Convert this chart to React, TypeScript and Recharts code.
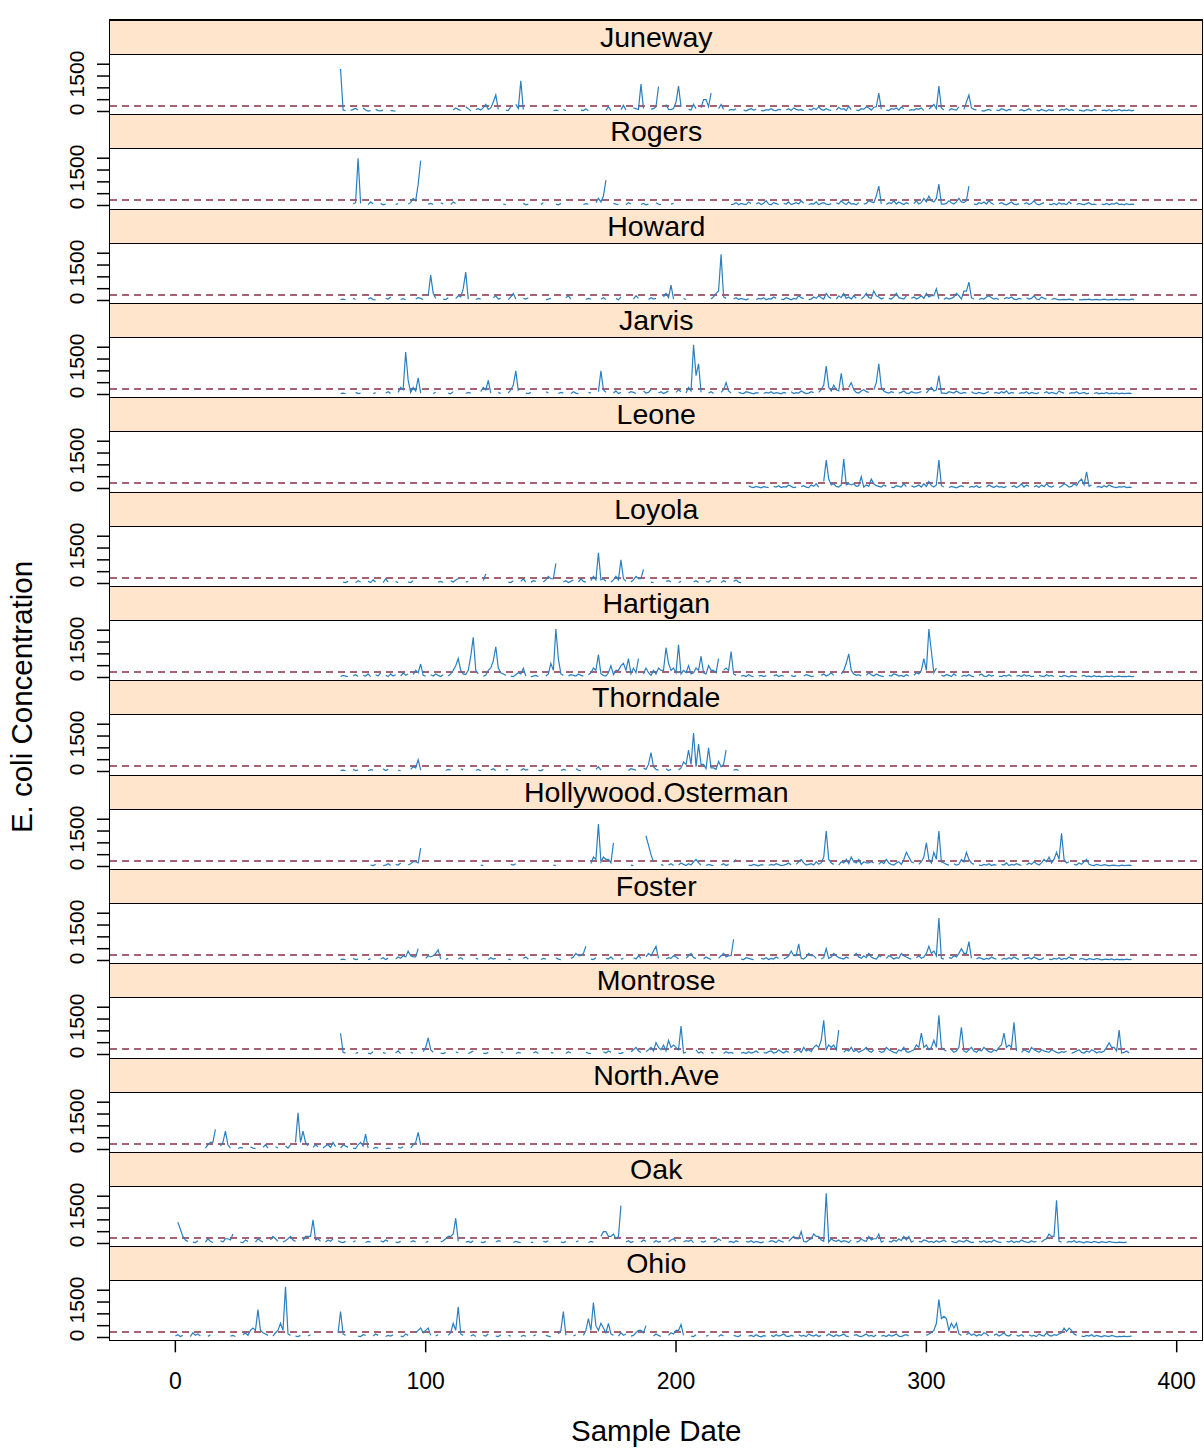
import React from "react";
import { LineChart, Line, XAxis, YAxis, ReferenceLine } from "recharts";

type Run = [number, number[]];
type Peak = [number, number];

// tick labels
const xTicks = [0, 100, 200, 300, 400];
const yTicks = [0, 500, 1000, 1500, 2000];
const yLabelled = [0, 1500];
const threshold = 235;

// baseline runs: [first sample date, values...]; peaks: [sample date, value]
const junewayRuns: Run[] = [[66,[110,60,40]],[70,[40,90,130,60]],[75,[150,60,20,40]],[80,[90,40,30,60]],[86,[50,30,20]],[111,[60,150,90,40]],[116,[200,120,30]],[120,[90,120,60,160,300,90,150,200,150,90]],[132,[60,40,200]],[136,[300,120,250,80]],[151,[30,60,40]],[155,[90,30]],[162,[60,40,120,30]],[172,[50,200,40]],[178,[80,260,60]],[183,[150,120,90,60,120]],[190,[100,120,200,70]],[196,[300,90,80,120,400,150,200]],[205,[90,60,300,120]],[210,[150,500,120,200,60]],[217,[120,300,90]],[221,[40,90,60,120]],[227,[60,30,80,120,60,90]],[234,[40,30,80,60,120,50,40,90,70]],[244,[60,120,40,150,90,60,80,30]],[253,[100,60,140,80,200,90,50,120,70,40]],[264,[60,180,90,120,40,220,80]],[272,[60,40,120,90,200,150,60,180,200,200,90]],[284,[60,40,120,90,150,60,200,110]],[293,[40,80,60,120,90,150,40]],[301,[90,200,300,120,400,150,60]],[309,[40,120,80,60,200]],[315,[90,400,120,150,90,60]],[322,[40,20,60,90,30]],[328,[60,40,120,80,30,90,60]],[337,[40,80,30,60,120,40]],[344,[60,30,90,50,20,80,40,60]],[353,[30,90,60,120,40,80,30]],[361,[60,40,20,80,60,30,90,50]],[370,[40,60,30,80,20,60,40,90,30,60,40,70,30,60]]];
const junewayPeaks: Peak[] = [[66,1800],[127,400],[128,700],[138,1300],[186,1160],[193,1050],[201,1075],[212,500],[214,780],[281,780],[305,1075],[317,700]];

const rogersRuns: Run[] = [[71,[60,120,90,90]],[77,[40,150,60]],[82,[90,30,60]],[88,[40,80]],[93,[60,120,300,200,90,200]],[101,[60,90,40]],[106,[120,60]],[110,[40,150,80]],[131,[60,40]],[139,[90,30,60]],[146,[40,120]],[152,[60,30,90]],[163,[40,80,60]],[168,[120,300,150,400,150]],[175,[90,60,40]],[180,[30,120,60]],[186,[40,90,30,60]],[192,[120,60,40]],[198,[60,90]],[222,[40,60,120,30,90,60,40,150,80]],[232,[60,120,40,90,200,60,30,120,80,40]],[243,[90,60,150,40,80,120,60,200,90]],[253,[40,80,60,150,30,90,120,60,40,80]],[264,[120,60,200,90,40,150,60,80,30,120]],[275,[60,90,200,150,120,150,90,60]],[284,[40,120,80,200,60,150,90,40,120,60]],[295,[80,200,60,120,300,150,400,200,150,300,120,60]],[307,[60,90,200,120,60,150,300,150,120,200,90]],[319,[60,40,120,80,150,60,200,90,40]],[329,[80,120,60,30,90,150,60,40,80]],[339,[60,120,40,90,200,60,30,80,120]],[349,[60,40,90,30,120,60,80,40,150,60]],[360,[40,90,60,30,80,120,40,60,30]],[370,[60,40,90,30,80,60,120,40,60,30,80,40,60,50]]];
const rogersPeaks: Peak[] = [[73,2000],[97,900],[98,1900],[171,400],[172,1075],[280,400],[281,820],[305,900],[317,820]];

const howardRuns: Run[] = [[66,[40,60,30]],[71,[90,40]],[77,[60,120,40,30]],[84,[90,60,150]],[90,[40,80,30]],[96,[60,120,90,40]],[101,[200,150,300,90]],[107,[60,40,120]],[112,[80,200,150,120,150,60]],[120,[40,90,60]],[127,[120,200,60,90]],[133,[40,150,300,60]],[139,[90,60,120]],[148,[40,60,90]],[156,[120,200,60]],[164,[40,90,60]],[170,[60,120,40]],[176,[90,30,150]],[183,[60,200,90]],[189,[40,120,60,90]],[195,[150,300,120,200,60]],[203,[90,40]],[214,[60,150,300,120,400,150,90]],[223,[60,120,40,90,60,30,80]],[232,[40,90,60,120,30,80,60,150,90]],[242,[60,40,120,80,30,90,60,200,120,80]],[253,[40,60,150,90,200,120,60,300,150,90]],[264,[60,200,120,300,90,150,60,200,90]],[274,[60,150,300,120,90,400,200,150,60,120]],[285,[90,60,150,300,120,90,60,200]],[294,[90,150,60,120,200,90,300,150,200,200,90,60]],[307,[40,120,60,90,150,300,200,60,400,200,300,120,60]],[321,[40,90,60,150,200,120,60,90,40]],[331,[60,120,90,150,60,40,90,60]],[340,[120,60,90,200,60,40,150,90,60]],[350,[40,90,60,30,40,50,40,60,40,30]],[361,[40,30,50,40,60,30,40,50,30,40,60,40,30,50,40,60,30,40,50,40,30,60,40]]];
const howardPeaks: Peak[] = [[102,1075],[115,500],[116,1200],[198,650],[217,400],[218,1950],[279,400],[304,490],[316,400],[317,780]];

const jarvisRuns: Run[] = [[66,[40,60,30]],[72,[90,40,60]],[79,[30,80]],[84,[60,120,40]],[89,[90,300,200,600,200,90,300,150,150,60]],[103,[40,90]],[109,[60,30,120]],[116,[40,90,60]],[122,[120,300,200,150,60]],[129,[90,40]],[133,[60,200,400,150,150]],[140,[60,40,90]],[148,[120,60]],[153,[40,90,60]],[158,[30,120,60,40]],[165,[90,60]],[169,[120,150,200,90]],[175,[60,150,40,90]],[181,[60,120,90,40]],[187,[150,60,90,200]],[193,[60,120,40,90,150]],[200,[90,200,120]],[204,[60,300,150,800,150,300,90]],[213,[60,120,40]],[218,[90,200,150,150,60]],[225,[90,60,40,120,90,60,30,80,60]],[235,[40,90,60,120,40,80,60,30,90,60]],[246,[120,40,80,60,150,90,40,60,120,80]],[257,[90,200,400,150,300,150,400,200,150,300,150]],[269,[300,150,200,90,60,150,200,120,90]],[279,[200,500,150,300,150,90,60,120,80]],[289,[60,90,150,60,40,120,80,60,90,120]],[300,[60,200,300,150,200,90,60]],[307,[60,40,120,90,60,150,80,40,90,60]],[318,[120,60,40,90,60,30,80,120]],[327,[60,90,40,120,60,150,30,90,60]],[337,[40,80,60,120,30,90,60,40,80]],[347,[60,120,40,90,60,30,150,90,60]],[357,[40,80,60,120,40,60,90,30,60]],[367,[40,80,30,60,40,90,30,60,40,70,30,60,40,50,60,40]]];
const jarvisPeaks: Peak[] = [[92,1800],[93,600],[97,700],[125,600],[136,1000],[170,1000],[207,2100],[208,800],[209,1300],[220,500],[260,1200],[266,900],[270,500],[281,1300],[305,800]];

const leoneRuns: Run[] = [[229,[120,60,40,90,60,30,80,60,40]],[239,[90,60,120,40,80,60,150,90,40,60]],[250,[80,120,60,40,150,90,200,60]],[259,[300,150,400,150,200,90,60,150,300,150,200,150,200,90,120,90]],[275,[60,150,90,150,200,120,90,60,150,90]],[286,[60,40,120,90,60,200,80]],[294,[120,60,90,150,60,200,90,300,120,60,150,300,120,60]],[309,[40,90,60,30,80,120,60]],[317,[40,90,60,120,40,80]],[324,[60,150,90,40,120,60,80,40,90]],[334,[60,120,40,90,200,60,150,90]],[343,[60,120,40,150,80,200,90,60,120]],[353,[40,90,200,150,60,90,200,120,300,400,150,200,90,150]],[368,[60,90,40,120,60,150,90,60,40,80,60,90,40,60,50]]];
const leonePeaks: Peak[] = [[260,1200],[267,1250],[274,500],[278,400],[305,1200],[364,700]];

const loyolaRuns: Run[] = [[67,[60,40,90]],[72,[30,120,60]],[77,[90,40,150,60]],[83,[40,200,60]],[88,[90,30]],[93,[60,40,120]],[105,[60,90,40]],[110,[120,60,150,200]],[116,[60,90]],[123,[120,250]],[133,[60,40,120]],[138,[90,200,60]],[142,[40,120,90]],[147,[60,150,300,200,200,90]],[155,[60,120,40,90,150]],[161,[60,200,90,60]],[166,[120,300,150,400,150,200,90]],[174,[60,150,300,150,400,200,90]],[182,[60,150,300,200,200,90]],[190,[60,40]],[196,[90,120,60]],[201,[40,90]],[207,[60,120,40]],[212,[90,60,150]],[218,[40,120,60]],[223,[90,150,60,40]]];
const loyolaPeaks: Peak[] = [[124,400],[152,850],[169,1300],[178,1000],[187,600]];

const hartiganRuns: Run[] = [[66,[40,90,60,30]],[71,[60,120,40]],[75,[90,60,150,40]],[80,[120,60,200]],[84,[90,40,150,60,120]],[90,[60,200,90,150]],[95,[120,300,200,200,90,60]],[102,[120,60,150,90,40,120]],[109,[60,150,300,500,300,300,150,120,300,400,600,300,150]],[123,[60,90,300,400,300,800,400,200,150,90]],[134,[60,40,120,200,150,150,60]],[142,[40,60,90,30]],[148,[60,150,600,300,800,400,150,90]],[157,[60,120,90,60,150,90,60]],[165,[120,200,400,300,300,150,90,60,200,500,120,300,300,200,600,300,300,150,400,200,90]],[187,[150,400,200,90,300,150,400,300,300,200,600,300,400,200,200]],[202,[150,300,200,500,150,200,400,300,300,200,150,500,300,300,200,150]],[219,[300,400,300,300,150,90]],[226,[60,90,40,120,60,30]],[233,[60,90,40,80]],[239,[60,120,40,90,60]],[246,[90,40,80]],[251,[60,120,90,40,60]],[258,[90,150,60,120,200,90]],[266,[150,300,600,300,300,150,90,120,60]],[276,[90,200,120,60,150,90,60,40]],[285,[90,60,150,120,60,90,40,120,60]],[295,[90,200,150,300,800,300,300,400,200,150]],[306,[90,60,120,90,40,150,60]],[314,[40,90,60,120,60,40]],[321,[90,150,60,40,120,60,90]],[329,[60,40,90,60,120,40]],[336,[60,90,40,120,60,90,40,60]],[345,[90,60,40,120,60,90,40]],[353,[60,40,90,60,30,80,60,40]],[362,[60,90,40,60,30,80,40,60,30,50,60,40,70,30,50,60,40,50,40,60,40,50]]];
const hartiganPeaks: Peak[] = [[98,570],[113,800],[118,900],[119,1700],[127,700],[128,1300],[139,390],[152,2050],[153,800],[169,970],[178,500],[181,800],[185,800],[188,400],[196,1260],[201,1380],[210,900],[217,800],[222,1100],[269,1000],[301,2050],[302,1100],[304,400]];

const thorndaleRuns: Run[] = [[66,[40,60,30]],[71,[90,40,60]],[77,[30,80,60]],[83,[120,40,90]],[89,[60,30]],[94,[90,200,150,150,60]],[108,[40,90,60]],[114,[120,60]],[120,[40,90,30]],[126,[60,120,40]],[132,[90,60]],[138,[40,120,60,90]],[145,[60,30,90]],[154,[40,90,60]],[160,[120,60,40]],[168,[90,200,60]],[181,[40,120,90,60]],[187,[150,90,300,150,200,90,60]],[196,[120,40,90]],[201,[60,150,400,300,900,300,300,200,600,300,300,120,90,150,150,90,300,200,300,120]],[223,[60,90,40]]];
const thorndalePeaks: Peak[] = [[97,500],[190,800],[207,1630],[209,1160],[213,1000],[217,430],[220,900]];

const hollywoodRuns: Run[] = [[78,[60,40,90]],[83,[30,60,120,40]],[88,[90,60,150]],[93,[60,120,200,200,150,60]],[122,[60,40]],[134,[90,60,120]],[151,[60,40]],[166,[120,400,300,600,200,400,300,300,150,90]],[182,[60,40]],[188,[1300,900,500,200]],[194,[90,40]],[197,[60,120,40]],[201,[60,150,90,40,120,60,200,300,150,60]],[212,[40,90,60,30]],[218,[60,120,40,90]],[223,[180,300]],[229,[60,40,90,60,30,80,60]],[237,[40,90,60,120,80,40,60,90,150,60]],[248,[90,200,150,150,60,90,120,60,200,90,150,400,300,300,150,90]],[265,[60,200,150,300,120,400,200,150,300,90,200,150,150,200,150]],[281,[90,200,120,300,150,90,60,150,200,90,300,300,400,200,150]],[297,[90,200,400,300,300,150,600,300,400,200,150,90,60]],[311,[120,60,90,300,200,300,300,150,90]],[321,[60,40,90,60,120,40,80,60]],[330,[90,60,150,40,90,60,120,80,40]],[340,[60,150,90,200,120,60,150,300,200,400,150,300,600,300,900,300,150,200]],[359,[90,60,150,90,200,300,90,60,40,90,60,40,80,60,30,50,60,40,30,60,40,50,60,40]]];
const hollywoodPeaks: Peak[] = [[98,780],[169,1800],[175,1000],[250,300],[260,1500],[270,400],[292,600],[300,1000],[305,1500],[316,600],[354,1400]];

const fosterRuns: Run[] = [[66,[40,60,30]],[71,[90,40,60]],[77,[30,80]],[82,[60,120,40,90]],[88,[60,150,90,200,150,150,200,150,150,60]],[100,[90,200,150,200,300,150,60]],[108,[40,90]],[113,[60,120,40]],[120,[90,60]],[125,[40,120,60,90]],[133,[60,40]],[139,[90,150,60]],[146,[40,90,60]],[152,[120,60,40]],[158,[90,150,300,200,200,300,150]],[166,[60,40,120]],[172,[90,60,150,40]],[178,[60,90]],[183,[120,60,200,90]],[188,[150,300,200,400,150,90]],[196,[60,120,90,200,150,60]],[204,[90,200,300,120,90]],[211,[60,150,90,40]],[217,[90,200,300,150,200,200,90]],[226,[60,40,120,90,60,30]],[234,[90,60,120,40,90,60,150,80]],[243,[60,120,200,400,200,200,120,90,60,150,300,200,200,90]],[258,[60,120,200,90,150,300,200,120,90,60,150,90]],[271,[200,300,150,90,200,120,300,150,90,60,200,150]],[284,[90,200,150,60,120,90,300,200,150,90,60]],[296,[120,200,90,150,300,600,300,400,200,150,90,60]],[309,[120,90,200,150,300,500,300,300,150,90]],[320,[60,120,90,40,90,60,150,90,60]],[330,[40,90,60,120,60,150,90,40]],[339,[60,90,120,60,150,90,40,60,120]],[349,[60,40,90,60,120,40,90,60,150,90,60]],[361,[40,90,60,30,80,60,40,90,60,30,50,60,40,70,30,60,40,50,40,60,40,50]]];
const fosterPeaks: Peak[] = [[93,400],[97,500],[105,450],[164,600],[192,600],[223,900],[249,700],[260,500],[305,1800],[317,800]];

const montroseRuns: Run[] = [[66,[300,90,60]],[72,[40,90]],[77,[60,30,120]],[83,[90,40]],[88,[60,150,40]],[94,[90,60]],[99,[120,300,200,200,90]],[106,[60,40,90]],[112,[120,60]],[117,[40,90,150]],[123,[60,40,90]],[130,[120,60]],[136,[40,90,60]],[143,[60,120,40]],[150,[90,60]],[156,[40,120,60]],[164,[90,60,40]],[171,[120,60,150,90]],[177,[60,40,90]],[182,[120,200,300,150,90]],[188,[120,200,300,150,300,300,200,400,150,300,300,150,300,200,90]],[203,[60,90]],[208,[200,60,120,40]],[214,[90,60]],[219,[40,120,60,90,40]],[226,[60,90,40,120,60,90,150,60]],[235,[90,60,120,150,60,90,200,120,60,150,90]],[247,[60,150,200,90,300,150,200,120,300,400,300,600,300,200,400,300,400,200,150]],[267,[90,200,150,300,120,200,90,150,200,300,150,90,200]],[281,[150,90,120,300,200,150,90,60,200,150,300,120,90,150,200,400,300,900,300,400,200,300,600,300,500,300,200,150]],[310,[200,90,150,300,200,150,90,200,300,150,90,200,150,300,200,120,90,200,150,300,400,900,300,400,300,200,150]],[338,[90,200,150,90,300,200,150,90,200,150,120,90,200,150,90,60,120,90,150]],[358,[60,90,150,200,90,60,150,90,200,150,60,120,90,150,300,500,300,300,150,90,60,90,150,60]]];
const montrosePeaks: Peak[] = [[66,900],[101,700],[192,500],[197,600],[199,400],[202,1200],[259,1450],[265,1030],[300,400],[305,1660],[314,1150],[335,1360],[377,1030]];

const northAveRuns: Run[] = [[12,[60,200,300,300,90]],[18,[150,300,200,200,60]],[25,[40,90,60]],[30,[120,60,40]],[35,[90,200,60]],[40,[120,60]],[44,[150,60,200]],[48,[300,400,300,200,300,150]],[55,[90,200,120]],[59,[60,150,200,90,300,120]],[66,[60,200,150,90]],[71,[60,40,200,300,150,90,60]],[79,[40,90,60]],[84,[30,60,40]],[89,[90,60,120]],[94,[60,200,300,300,200]]];
const northAvePeaks: Peak[] = [[16,850],[20,780],[49,1550],[51,780],[76,650],[97,720]];

const oakRuns: Run[] = [[1,[900,600,300,150,90]],[7,[60,40,120]],[12,[60,200,90,40]],[18,[120,60,200,200,150,90]],[26,[60,40,150,90]],[32,[60,200,120,60]],[38,[150,300,200,90]],[43,[60,120,200,300,150,90]],[51,[120,300,300,300,300,150,200,90]],[60,[60,150,90,200]],[65,[120,60,40,90]],[71,[60,120]],[76,[40,90,60]],[82,[120,60,150,90]],[88,[60,40,90]],[94,[60,120,60]],[100,[40,90]],[106,[60,120,200,300,300,400,200,90]],[116,[60,90,40,120]],[122,[60,40,90]],[128,[60,120,90]],[135,[40,90,60,30]],[142,[60,40]],[147,[90,60,120]],[154,[60,40,90]],[160,[60,120]],[165,[40,90,60]],[170,[300,500,500,300,300,400,200,300,90]],[180,[60,120,40,90]],[186,[60,150,90]],[191,[40,120,60,90]],[197,[60,150,200,90]],[203,[60,120,90,150,40]],[210,[90,60,120]],[215,[60,90,200,120]],[221,[60,90,40,120,60]],[228,[90,60,120,40,90,60,30,80]],[237,[60,120,90,40,150,90,60]],[245,[90,200,300,200,200,120,90,60,150,200,400,300,300,150,90,200]],[261,[60,200,120,90,150,60,120,90,40,150]],[272,[60,90,200,120,90,300,150,200,200,90,60,120]],[285,[90,60,150,90,200,120,300,150,90,60,120]],[297,[90,60,150,120,60,90,40,120,60,90,150,60]],[310,[90,60,40,120,90,60,150,90,40,60]],[321,[90,60,120,40,90,60,150,90,60,40]],[332,[90,60,120,40,90,60,150,90,60,40,120,60,90]],[346,[60,150,200,400,300,300,150,90,60]],[356,[40,90,60,120,40,90,60,30,80,60,40,90,60,30,80,60,40,90,60,50,40,60,50,40,60]]];
const oakPeaks: Peak[] = [[1,900],[23,400],[55,1000],[112,1070],[172,500],[178,1600],[250,500],[260,2120],[281,400],[293,300],[352,1830]];

const ohioRuns: Run[] = [[0,[60,120,40,90]],[6,[40,200,90,150,60]],[13,[40,120]],[22,[60,90,40]],[27,[120,200,90,300,400,300,600,300,200,150,90]],[39,[60,200,300,600,300,300,150,90]],[48,[60,40,90]],[53,[60,120]],[65,[200,300,150,90]],[73,[60,40,120,90]],[79,[60,150,90]],[84,[40,90,60,120]],[90,[60,40,150,90]],[96,[200,300,150,200,300,300,90]],[104,[60,120]],[109,[90,200,600,300,300,150,90]],[118,[60,120,40]],[123,[90,60,150]],[128,[60,40,120]],[133,[90,60]],[138,[40,90,60]],[143,[60,120]],[148,[90,60,40]],[153,[150,300,200,90]],[159,[60,120]],[163,[90,300,800,300,900,500,300,600,400,200,300,150,90]],[177,[60,200,90,150]],[182,[60,90,200,300,300,200,90]],[191,[60,150,90,40]],[197,[90,200,150,300,300,200,90]],[206,[60,40,120]],[212,[60,90]],[217,[40,120,60]],[223,[90,60,40,120]],[229,[60,90,40,120,60,30,80,60]],[238,[90,40,120,60,90,150,60,40,90,60]],[249,[120,60,90,40,150,90,60,120,40,90]],[260,[60,150,90,40,120,60,90,150,60,40]],[271,[90,120,60,40,90,150,60,90,40,120]],[282,[60,90,40,120,60,90,150,60,40,90,120,60]],[300,[90,150,200,300,600,300,800,900,500,300,600,400,200,150,90]],[316,[120,200,90,150,60,120,90,200,150,60]],[327,[90,150,60,120,200,90,60,150]],[336,[90,60,120,40]],[341,[120,60,90,40,150,90,60,200,90,60,120,90,150,200,400,250,400,300,150,90]],[362,[60,40,90,60,120,40,90,60,30,80,60,40,90,60,30,50,40,60,40,50,60]]];
const ohioPeaks: Peak[] = [[33,1180],[44,2150],[66,1100],[98,400],[101,400],[113,1300],[155,1100],[167,1480],[173,600],[188,500],[202,550],[305,1600],[308,800],[312,600]];

const sites = ["Juneway","Rogers","Howard","Jarvis","Leone","Loyola","Hartigan","Thorndale","Hollywood.Osterman","Foster","Montrose","North.Ave","Oak","Ohio"];
const siteData: [Run[], Peak[]][] = [
  [junewayRuns, junewayPeaks], [rogersRuns, rogersPeaks], [howardRuns, howardPeaks],
  [jarvisRuns, jarvisPeaks], [leoneRuns, leonePeaks], [loyolaRuns, loyolaPeaks],
  [hartiganRuns, hartiganPeaks], [thorndaleRuns, thorndalePeaks], [hollywoodRuns, hollywoodPeaks],
  [fosterRuns, fosterPeaks], [montroseRuns, montrosePeaks], [northAveRuns, northAvePeaks],
  [oakRuns, oakPeaks], [ohioRuns, ohioPeaks],
];

// one row per sample date, null where there was no sample (breaks the line)
const buildRows = (runs: Run[], peaks: Peak[]) => {
  const m = new Map<number, number>();
  runs.forEach(([s, vs]) => vs.forEach((v, i) => m.set(s + i, v)));
  peaks.forEach(([d, v]) => m.set(d, v));
  const days = [...m.keys()];
  const lo = Math.min(...days);
  const hi = Math.max(...days);
  const rows: { day: number; conc: number | null }[] = [];
  for (let d = lo; d <= hi; d++) rows.push({ day: d, conc: m.has(d) ? (m.get(d) as number) : null });
  return rows;
};

const W = 1204;
const PL = 110;
const PR = 1202.5;
const TOP = 20;
const STEP = 94.33;
const STRIP = 35;
const PH = STEP - STRIP;
const X_DOMAIN: [number, number] = [-26.1, 410.3];
const Y_DOMAIN: [number, number] = [-120, 2390];
const FONT = "'Liberation Sans', Arial, sans-serif";
const LINE = "#2b7fc0";

const YTick = (props: any) => {
  const { x, y, payload } = props;
  if (!yLabelled.includes(payload.value)) return <g />;
  return (
    <text transform={`translate(${x - 11},${y - 2}) rotate(-90)`} textAnchor="middle" fontSize={21} fontFamily={FONT} fill="#000">
      {payload.value}
    </text>
  );
};

const Panel = ({ name, idx }: { name: string; idx: number }) => {
  const [runs, peaks] = siteData[idx];
  const rows = buildRows(runs, peaks);
  const top = TOP + idx * STEP;
  const last = idx === sites.length - 1;
  return (
    <>
      <div
        style={{
          position: "absolute", left: PL, top, width: PR - PL, height: STRIP, boxSizing: "border-box",
          background: "#ffe5cc", borderTop: "1.5px solid #000", borderBottom: "1.5px solid #000",
          textAlign: "center", fontFamily: FONT, fontSize: 28.5, lineHeight: `${STRIP - 3}px`, color: "#000",
        }}
      >
        {name}
      </div>
      <div style={{ position: "absolute", left: 0, top: top + STRIP }}>
        <LineChart width={W} height={PH + (last ? 62 : 0)} data={rows} margin={{ top: 0, right: W - PR, left: 0, bottom: 0 }}>
          <XAxis
            type="number" dataKey="day" domain={X_DOMAIN} allowDataOverflow ticks={xTicks} interval={0}
            hide={!last} height={62} tickSize={12} tickMargin={20} axisLine={false}
            tickLine={{ stroke: "#000", strokeWidth: 1.5 }}
            tick={{ fontSize: 23, fill: "#000", fontFamily: FONT }}
          />
          <YAxis
            type="number" domain={Y_DOMAIN} allowDataOverflow ticks={yTicks} interval={0}
            width={PL} tickSize={13} axisLine={false} tickLine={{ stroke: "#000", strokeWidth: 1.5 }} tick={YTick}
          />
          <ReferenceLine y={threshold} stroke="#8b2e45" strokeWidth={1.5} strokeDasharray="7 5" />
          <Line type="linear" dataKey="conc" stroke={LINE} strokeWidth={1.2} dot={false} isAnimationActive={false} />
        </LineChart>
      </div>
    </>
  );
};

export default function App() {
  const bottom = TOP + sites.length * STEP;
  const topRows = buildRows(siteData[0][0], siteData[0][1]);
  return (
    <div style={{ position: "absolute", left: 0, top: 0, width: W, height: 1452, background: "#fff", overflow: "hidden" }}>
      <style>{`.recharts-wrapper, .recharts-surface { overflow: visible !important; }`}</style>
      {/* top axis ticks */}
      <div style={{ position: "absolute", left: 0, top: 8 }}>
        <LineChart width={W} height={14} data={topRows} margin={{ top: 0, right: W - PR, left: PL, bottom: 0 }}>
          <XAxis
            type="number" dataKey="day" orientation="top" domain={X_DOMAIN} allowDataOverflow ticks={xTicks} interval={0}
            height={12} tickSize={12} axisLine={false} tick={false} tickLine={{ stroke: "#000", strokeWidth: 1.5 }}
          />
          <YAxis type="number" domain={Y_DOMAIN} hide />
          <Line dataKey="conc" stroke="none" dot={false} isAnimationActive={false} />
        </LineChart>
      </div>
      {sites.map((s, i) => (
        <Panel key={s} name={s} idx={i} />
      ))}
      {/* panel frame */}
      <div
        style={{
          position: "absolute", left: PL - 0.75, top: TOP - 0.75, width: PR - PL + 1.5, height: bottom - TOP + 1.5,
          border: "1.5px solid #000", boxSizing: "border-box", pointerEvents: "none",
        }}
      />
      <div
        style={{
          position: "absolute", left: 22, top: 697, transform: "translate(-50%, -50%) rotate(-90deg)",
          whiteSpace: "nowrap", fontFamily: FONT, fontSize: 29.5, color: "#000",
        }}
      >
        E. coli Concentration
      </div>
      <div
        style={{
          position: "absolute", left: PL, width: PR - PL, top: 1416, textAlign: "center",
          fontFamily: FONT, fontSize: 29.5, lineHeight: 1, color: "#000",
        }}
      >
        Sample Date
      </div>
    </div>
  );
}
